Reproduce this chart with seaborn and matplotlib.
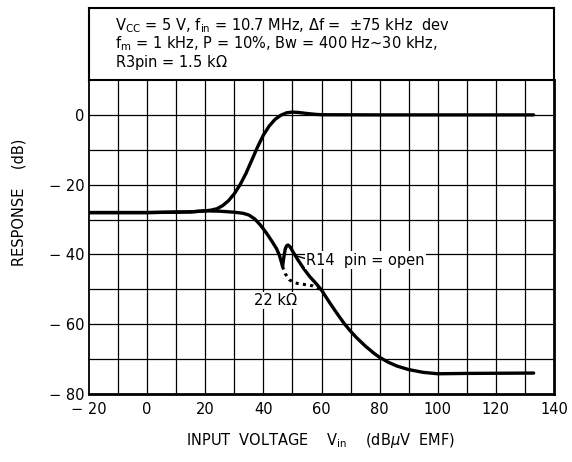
import matplotlib
matplotlib.use("Agg")
import matplotlib.pyplot as plt
import seaborn as sns
import pandas as pd

# ---- data ----
sig_x = [-20, 0, 15, 20, 22, 24, 26, 28, 30, 32, 34, 36, 38, 40, 42, 44, 46, 48, 50, 52, 55, 58, 60, 80, 100, 120, 133]
sig_y = [-28, -28, -27.8, -27.5, -27.3, -26.9, -26.0, -24.6, -22.6, -20.0, -16.8, -13.0, -9.2, -5.8, -3.2, -1.3,
         -0.1, 0.6, 0.8, 0.7, 0.4, 0.15, 0.05, 0, 0, 0, 0]

open_x = [-20, 0, 15, 20, 25, 30, 33, 35, 37, 39, 41, 43, 44.5, 45.5, 46.3, 46.6, 47.0, 47.5, 48, 48.5, 49.2, 50,
          52, 54, 56, 58, 60, 62, 64, 66, 68, 70, 72, 75, 78, 80, 83, 86, 90, 95, 100, 110, 133]
open_y = [-28, -28, -27.8, -27.5, -27.6, -27.9, -28.2, -28.7, -29.8, -31.6, -33.8, -36.3, -38.3, -40.2, -42.5,
          -43.5, -41, -38.5, -37.5, -37.3, -37.8, -39, -41.7, -44.2, -46.4, -48.2, -50.2, -52.8, -55.3, -57.7,
          -60, -62, -63.8, -66.2, -68.3, -69.5, -70.9, -72, -73, -73.8, -74.2, -74.1, -74]

r22_x = [46.6, 47.5, 49, 51, 54, 57, 60]
r22_y = [-43.5, -45.5, -47.3, -48.2, -48.6, -49, -50.2]

xticks = [-20, 0, 20, 40, 60, 80, 100, 120, 140]
xticklabels = ["\u2212 20", "0", "20", "40", "60", "80", "100", "120", "140"]
yticks = [-80, -60, -40, -20, 0]
yticklabels = ["\u2212 80", "\u2212 60", "\u2212 40", "\u2212 20", "0"]

cond_lines = [
    r"V$_{\mathregular{CC}}$ = 5 V, f$_{\mathregular{in}}$ = 10.7 MHz, $\mathit{\Delta}$f =  $\pm$75 kHz  dev",
    r"f$_{\mathregular{m}}$ = 1 kHz, P = 10%, Bw = 400 Hz~30 kHz,",
    r"R3pin = 1.5 k$\Omega$",
]

sns.set_theme(style="white")
plt.rcParams["font.family"] = ["DejaVu Sans"]
plt.rcParams["mathtext.fontset"] = "dejavusans"
plt.rcParams["text.color"] = "black"
plt.rcParams["xtick.color"] = "black"
plt.rcParams["ytick.color"] = "black"
plt.rcParams["axes.labelcolor"] = "black"

W, H = 572, 462
fig = plt.figure(figsize=(W / 100, H / 100), dpi=100)
L, R, T, B = 89, 554, 80, 394
ax = fig.add_axes([L / W, 1 - B / H, (R - L) / W, (B - T) / H])

df_sig = pd.DataFrame({"x": sig_x, "y": sig_y})
df_open = pd.DataFrame({"x": open_x, "y": open_y})
df_22 = pd.DataFrame({"x": r22_x, "y": r22_y})

ax.set_xlim(-20, 140)
ax.set_ylim(-80, 10)
for xv in range(-10, 140, 10):
    ax.axvline(xv, color="black", lw=0.9, zorder=1)
for yv in range(-70, 10, 10):
    ax.axhline(yv, color="black", lw=0.9, zorder=1)

sns.lineplot(data=df_sig, x="x", y="y", ax=ax, color="black", lw=2.4, zorder=5)
sns.lineplot(data=df_open, x="x", y="y", ax=ax, color="black", lw=2.4, zorder=5)
sns.lineplot(data=df_22, x="x", y="y", ax=ax, color="black", lw=2.2, ls=(0, (1, 1.4)), zorder=5)

ax.plot([50.8, 54.6], [-40.3, -41.2], color="black", lw=1.0, zorder=4)
ax.text(54.8, -41.6, "R14  pin = open", fontsize=10.5, ha="left", va="center", zorder=6,
        bbox=dict(facecolor="white", edgecolor="none", pad=1.0))
ax.text(36.7, -53.2, "22 k\u03a9", fontsize=10.5, ha="left", va="center", zorder=3,
        bbox=dict(facecolor="white", edgecolor="none", pad=1.0))

ax.set_xticks(xticks)
ax.set_xticklabels(xticklabels, fontsize=10.5)
ax.set_yticks(yticks)
ax.set_yticklabels(yticklabels, fontsize=10.5)
ax.tick_params(axis="y", length=0, pad=3)
ax.tick_params(axis="x", length=0, pad=5.5)
ax.set_xlabel("")
ax.set_ylabel("")
for s in ax.spines.values():
    s.set_color("black")
    s.set_linewidth(1.3)
ax.spines["bottom"].set_linewidth(2.0)
ax.spines["right"].set_linewidth(2.0)

# condition box
TB = 8
axt = fig.add_axes([L / W, 1 - T / H, (R - L) / W, (T - TB) / H])
axt.set_xticks([])
axt.set_yticks([])
for s in axt.spines.values():
    s.set_color("black")
    s.set_linewidth(1.5)
for i, line in enumerate(cond_lines):
    axt.text(0.056, [0.76, 0.5, 0.24][i], line, fontsize=10.5, ha="left", va="center",
             transform=axt.transAxes)

fig.text(19 / W, 1 - 202 / H, "RESPONSE    (dB)", rotation=90, fontsize=10.5, ha="center", va="center")
fig.text(321 / W, 1 - 441 / H, r"INPUT  VOLTAGE    V$_{\mathregular{in}}$    (dB$\mu$V  EMF)",
         fontsize=10.5, ha="center", va="center")

fig.savefig("out.png", dpi=100)
